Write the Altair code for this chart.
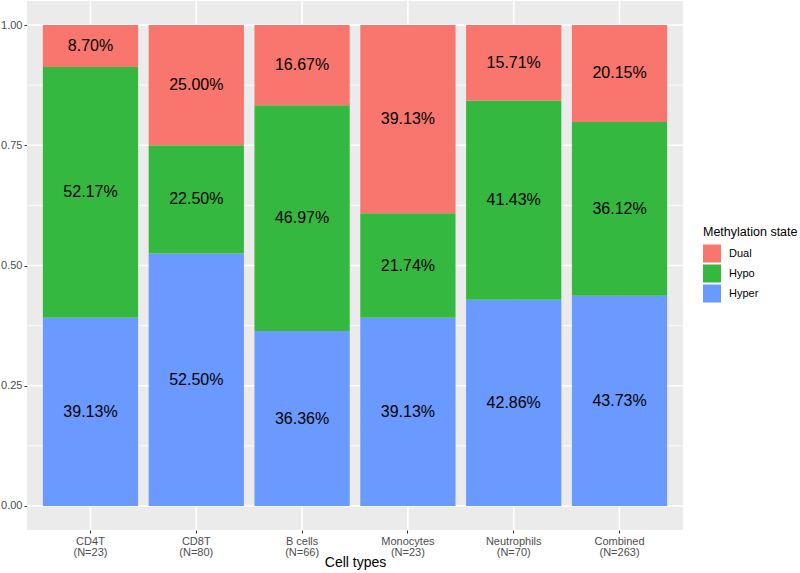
import altair as alt
import pandas as pd

cells = ["CD4T", "CD8T", "B cells", "Monocytes", "Neutrophils", "Combined"]
ns = [23, 80, 66, 23, 70, 263]
states = ["Dual", "Hypo", "Hyper"]
colors = ["#F8766D", "#34B83F", "#6A99FF"]
dual = [8.70, 25.00, 16.67, 39.13, 15.71, 20.15]
hypo = [52.17, 22.50, 46.97, 21.74, 41.43, 36.12]
hyper = [39.13, 52.50, 36.36, 39.13, 42.86, 43.73]
major_ticks = [0.0, 0.25, 0.5, 0.75, 1.0]
minor_ticks = [0.125, 0.375, 0.625, 0.875]

labels = [f"{c}|(N={n})" for c, n in zip(cells, ns)]
rows = []
for i, lab in enumerate(labels):
    start = 0.0
    for st, vals in [("Hyper", hyper), ("Hypo", hypo), ("Dual", dual)]:
        v = vals[i] / 100.0
        rows.append({"cell": lab, "state": st, "v": start, "end": start + v,
                     "mid": start + v / 2, "txt": f"{vals[i]:.2f}%"})
        start += v
df = pd.DataFrame(rows)

FONT = "Liberation Sans"
xscale = alt.Scale(domain=labels, paddingInner=0.1, paddingOuter=0.15)
yscale = alt.Scale(domain=[-0.05, 1.05], nice=False, zero=False)

xaxis = alt.Axis(labelExpr="split(datum.label, '|')", labelAngle=0,
                 labelFont=FONT, labelFontSize=11, labelColor="#4D4D4D",
                 labelLineHeight=11.5, labelPadding=2,
                 tickColor="#333333", tickSize=3, domain=False, grid=False,
                 titleFont=FONT, titleFontSize=14, titleColor="black",
                 titleFontWeight="normal", titlePadding=-2)
yaxis = alt.Axis(values=major_ticks, format=".2f", title=None,
                 labelFont=FONT, labelFontSize=11, labelColor="#4D4D4D",
                 labelPadding=2, tickColor="#333333", tickSize=3,
                 domain=False, grid=False)

X = alt.X("cell:N", scale=xscale, sort=labels, title="Cell types", axis=xaxis)

minor = alt.Chart(pd.DataFrame({"v": minor_ticks})).mark_rule(color="white", strokeWidth=0.8).encode(
    y=alt.Y("v:Q", scale=yscale, axis=yaxis, title=None)
)
major = alt.Chart(pd.DataFrame({"v": major_ticks})).mark_rule(color="white", strokeWidth=1.6).encode(
    y=alt.Y("v:Q", scale=yscale, axis=yaxis, title=None)
)
vgrid = alt.Chart(pd.DataFrame({"cell": labels})).mark_rule(color="white", strokeWidth=1.6).encode(
    x=X
)

bars = alt.Chart(df).mark_bar().encode(
    x=X,
    y=alt.Y("v:Q", scale=yscale, axis=yaxis, title=None),
    y2="end:Q",
    color=alt.Color("state:N", scale=alt.Scale(domain=states, range=colors),
                    legend=alt.Legend(title="Methylation state", orient="none",
                                      legendX=676, legendY=225,
                                      symbolType="square", symbolSize=324,
                                      symbolStrokeWidth=0, symbolOpacity=1,
                                      rowPadding=2, labelOffset=8,
                                      labelFont=FONT, labelFontSize=11, labelColor="black",
                                      titleFont=FONT, titleFontSize=12.5, titleColor="black",
                                      titleFontWeight="normal", titlePadding=6)),
)

texts = alt.Chart(df).mark_text(font=FONT, fontSize=16, color="black").encode(
    x=X,
    y=alt.Y("mid:Q", scale=yscale, axis=yaxis, title=None),
    text="txt:N",
)

chart = alt.layer(minor, major, vgrid, bars, texts).properties(
    width=656, height=529,
    autosize=alt.AutoSizeParams(type="none"),
    padding={"left": 27, "top": 1, "right": 117, "bottom": 43},
).configure_view(fill="#EBEBEB", stroke=None)

chart.save("out.html", embed_options={"renderer": "svg", "actions": False})
